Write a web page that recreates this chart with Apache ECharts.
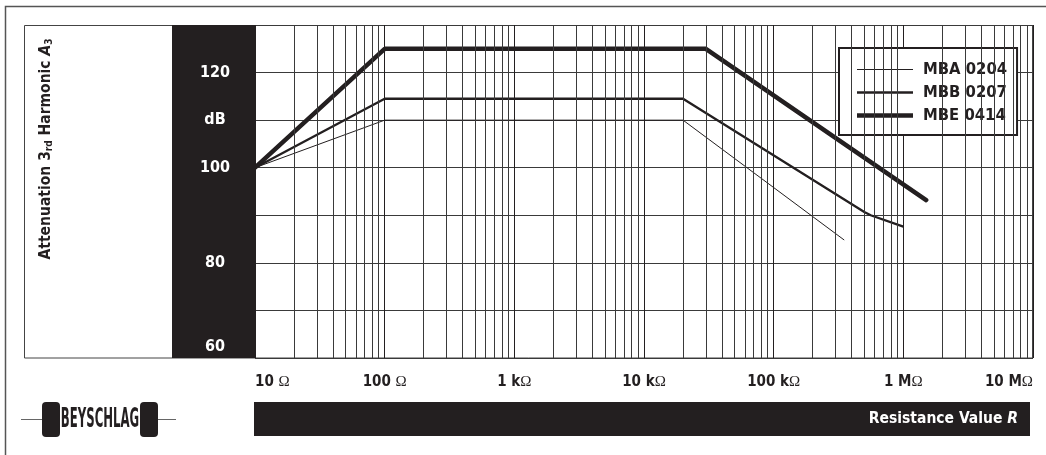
<!DOCTYPE html>
<html><head><meta charset="utf-8">
<script src="https://cdn.jsdelivr.net/npm/echarts@6/dist/echarts.min.js"></script>
<style>html,body{margin:0;padding:0;background:#fff}#c{width:1046px;height:455px}</style>
</head><body><div id="c"></div>
<script>
// ---- data ----
const seriesNames = ['MBA 0204', 'MBB 0207', 'MBE 0414'];
const mbaR  = [10, 100, 20000, 350000];
const mbaDb = [100, 110, 110, 84.8];
const mbbR  = [10, 100, 20000, 500000, 560000, 1000000];
const mbbDb = [100, 114.5, 114.5, 90.7, 90, 87.6];
const mbeR  = [10, 100, 30000, 1500000];
const mbeDb = [100, 125, 125, 93.2];
const xTickValues = [10, 100, 1000, 10000, 100000, 1000000, 10000000];
const xTickLabels = ['10 Ω', '100 Ω', '1 kΩ', '10 kΩ', '100 kΩ', '1 MΩ', '10 MΩ'];
const yTickValues = [60, 80, 100, 110, 120];
const yTickLabels = ['60', '80', '100', 'dB', '120'];
const minorMultipliers = [2, 3, 4, 5, 6, 7, 8, 9];
const minorDecades = [10, 100, 1000, 10000, 100000, 1000000];
const lineWidths = [1, 2.3, 4.5];

const FONT = "'DejaVu Sans Condensed','Liberation Sans Narrow','Liberation Sans',Arial,sans-serif";
const INK = '#231f20';
const GRID = '#3a3a3a';

const zip = (a, b) => a.map((v, i) => [v, b[i]]);
const minorLines = [];
minorDecades.forEach(d => minorMultipliers.forEach(m => minorLines.push({ xAxis: m * d })));
// legend icons: flat bars whose aspect ratio gives the line thickness (56 px wide)
const legendIcon = w => 'path://M0 0H560V' + Math.round(w * 10) + 'H0Z';

const chart = echarts.init(document.getElementById('c'), null, { renderer: 'canvas' });
chart.setOption({
  animation: false,
  backgroundColor: '#fff',
  grid: { left: 255, right: 13, top: 25, bottom: 97, show: false },
  xAxis: {
    type: 'log', logBase: 10, min: 10, max: 10000000, splitNumber: 6,
    axisLine: { show: false }, axisTick: { show: false },
    splitLine: { show: true, lineStyle: { color: INK, width: 1 } },
    axisLabel: {
      margin: 17, alignMinLabel: 'left', alignMaxLabel: 'right',
      formatter: function (v) {
        const i = xTickValues.findIndex(t => Math.abs(Math.log10(t) - Math.log10(v)) < 1e-6);
        if (i < 0) return '';
        const s = xTickLabels[i];
        return '{n|' + s.slice(0, -1) + '}{o|Ω}';
      },
      rich: {
        n: { fontFamily: FONT, fontWeight: 'bold', fontSize: 15, color: INK },
        o: { fontFamily: "'Liberation Serif','DejaVu Serif',serif", fontWeight: 'normal', fontSize: 15, color: INK }
      }
    }
  },
  yAxis: {
    type: 'value', min: 60, max: 130, interval: 10,
    axisLine: { show: false }, axisTick: { show: false },
    splitLine: { show: true, lineStyle: { color: GRID, width: 1 } },
    axisLabel: {
      margin: 40, align: 'center',
      formatter: function (v) {
        const i = yTickValues.indexOf(v);
        if (i < 0) return '';
        return v === 60 ? '{low|' + yTickLabels[i] + '}' : '{t|' + yTickLabels[i] + '}';
      },
      rich: {
        t: { fontFamily: FONT, fontWeight: 'bold', fontSize: 16, color: '#fff' },
        low: { fontFamily: FONT, fontWeight: 'bold', fontSize: 16, color: '#fff', padding: [0, 0, 22, 0] }
      }
    }
  },
  legend: {
    orient: 'vertical', left: 839, top: 48,
    padding: [13, 10, 11, 18], itemGap: 6, itemWidth: 56, itemHeight: 17,
    backgroundColor: '#fff', borderColor: INK, borderWidth: 2,
    itemStyle: { color: INK, borderWidth: 0 },
    textStyle: { fontFamily: FONT, fontWeight: 'bold', fontSize: 16.5, color: INK, padding: [0, 0, 0, 5] },
    data: seriesNames.map((n, i) => ({ name: n, icon: legendIcon(lineWidths[i]) }))
  },
  graphic: [
    // outer border
    { type: 'polyline', z: -20, shape: { points: [[1046, 6.5], [5.5, 6.5], [5.5, 455]] }, style: { stroke: '#555', lineWidth: 1.5, fill: null } },
    // inner frame
    { type: 'rect', z: -20, shape: { x: 24.5, y: 25.5, width: 1008, height: 332.5 }, style: { stroke: '#444', lineWidth: 1, fill: '#fff' } },
    // black band behind y labels
    { type: 'rect', z: -10, shape: { x: 172, y: 25, width: 83, height: 333 }, style: { fill: INK } },
    // y title
    { type: 'text', z: 10, x: 46, y: 149, rotation: Math.PI / 2,
      style: {
        text: '{a|Attenuation 3}{s|rd}{a| Harmonic }{i|A}{s|3}', align: 'center', verticalAlign: 'middle',
        rich: {
          a: { fontFamily: FONT, fontWeight: 'bold', fontSize: 15.5, fill: INK },
          i: { fontFamily: FONT, fontWeight: 'bold', fontStyle: 'italic', fontSize: 15.5, fill: INK },
          s: { fontFamily: FONT, fontWeight: 'bold', fontSize: 10, fill: INK, verticalAlign: 'bottom', padding: [4, 0, 0, 0] }
        }
      } },
    // x axis title bar
    { type: 'rect', z: -10, shape: { x: 254, y: 402, width: 776, height: 34 }, style: { fill: INK } },
    { type: 'text', z: 10, x: 1018, y: 419,
      style: {
        text: '{a|Resistance Value }{i|R}', align: 'right', verticalAlign: 'middle',
        rich: {
          a: { fontFamily: FONT, fontWeight: 'bold', fontSize: 15.5, fill: '#fff' },
          i: { fontFamily: FONT, fontWeight: 'bold', fontStyle: 'italic', fontSize: 15.5, fill: '#fff' }
        }
      } },
    // logo
    { type: 'line', z: 5, shape: { x1: 21, y1: 419.5, x2: 176, y2: 419.5 }, style: { stroke: '#666', lineWidth: 1 } },
    { type: 'rect', z: 6, shape: { x: 42, y: 402, width: 18, height: 35, r: 4 }, style: { fill: INK } },
    { type: 'rect', z: 6, shape: { x: 140, y: 402, width: 18, height: 35, r: 4 }, style: { fill: INK } },
    { type: 'rect', z: 6, shape: { x: 60, y: 406, width: 80, height: 27 }, style: { fill: '#fff' } },
    { type: 'text', z: 7, x: 100, y: 420, scaleX: 0.5,
      style: { text: 'BEYSCHLAG', align: 'center', verticalAlign: 'middle', fontFamily: FONT, fontWeight: 'bold', fontSize: 26, fill: INK } }
  ],
  series: [
    { name: '_minor', type: 'line', z: 1, data: [[10, 60]], showSymbol: false, symbol: 'none',
      lineStyle: { opacity: 0 }, silent: true, legendHoverLink: false,
      markLine: { silent: true, symbol: ['none', 'none'], label: { show: false }, animation: false,
        lineStyle: { type: 'solid', color: GRID, width: 1 }, data: minorLines } },
    { name: seriesNames[0], type: 'line', z: 3, data: zip(mbaR, mbaDb), symbol: 'none',
      lineStyle: { color: INK, width: lineWidths[0] }, itemStyle: { color: INK } },
    { name: seriesNames[1], type: 'line', z: 3, data: zip(mbbR, mbbDb), symbol: 'none',
      lineStyle: { color: INK, width: lineWidths[1] }, itemStyle: { color: INK } },
    { name: seriesNames[2], type: 'line', z: 3, data: zip(mbeR, mbeDb), symbol: 'none',
      lineStyle: { color: INK, width: lineWidths[2], cap: 'round' }, itemStyle: { color: INK } }
  ]
});
</script>
</body></html>
